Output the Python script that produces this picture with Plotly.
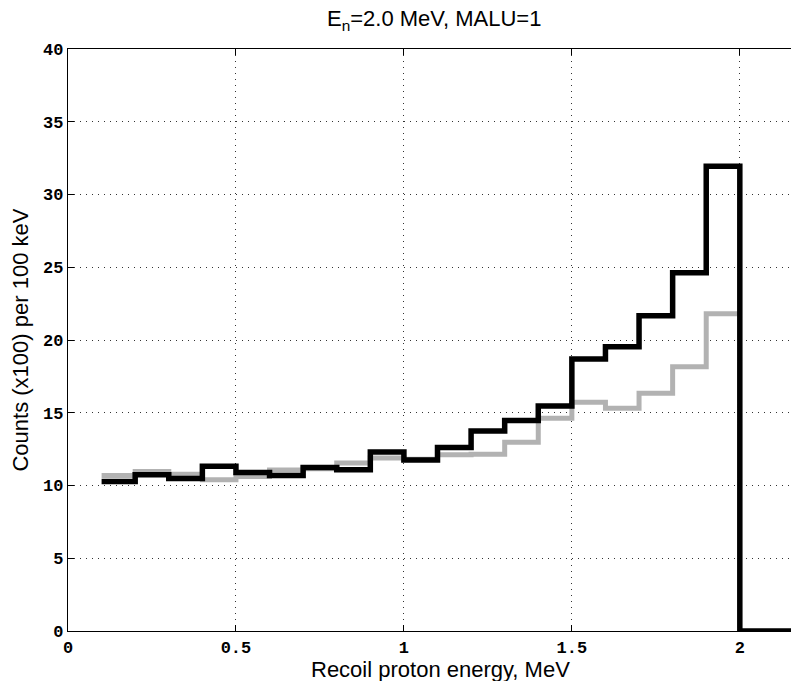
import plotly.graph_objects as go

# Bin left edges (MeV), 100 keV wide
bin_left = [0.1, 0.2, 0.3, 0.4, 0.5, 0.6, 0.7, 0.8, 0.9, 1.0,
            1.1, 1.2, 1.3, 1.4, 1.5, 1.6, 1.7, 1.8, 1.9]
bin_end = 2.0
tail_end = 2.2

# Counts (x100) per 100 keV
black_counts = [10.28, 10.74, 10.48, 11.33, 10.90, 10.69, 11.24, 11.08, 12.30, 11.75,
                12.62, 13.74, 14.47, 15.46, 18.69, 19.54, 21.67, 24.62, 31.95]
gray_counts = [10.69, 10.96, 10.78, 10.39, 10.62, 11.06, 11.15, 11.54, 11.89, 11.80,
               12.12, 12.15, 12.97, 14.62, 15.72, 15.31, 16.34, 18.17, 21.80]
tail_value = 0.0

x_ticks = [0, 0.5, 1, 1.5, 2]
x_ticktext = ["0", "0.5", "1", "1.5", "2"]
y_ticks = [0, 5, 10, 15, 20, 25, 30, 35, 40]
y_ticktext = ["0", "5", "10", "15", "20", "25", "30", "35", "40"]

title_text = "E<sub>n</sub>=2.0 MeV, MALU=1"
x_label = "Recoil proton energy, MeV"
y_label = "Counts (x100) per 100 keV"

# stairs data
gx = bin_left + [bin_end]
gy = gray_counts + [gray_counts[-1]]
bx = bin_left + [bin_end, tail_end]
by = black_counts + [tail_value, tail_value]

fig = go.Figure()
fig.add_trace(go.Scatter(x=gx, y=gy, mode="lines", line_shape="hv",
                         line=dict(color="rgb(178,178,178)", width=5),
                         showlegend=False, hoverinfo="skip"))
fig.add_trace(go.Scatter(x=bx, y=by, mode="lines", line_shape="hv",
                         line=dict(color="black", width=5.5),
                         showlegend=False, hoverinfo="skip"))

tickfont = dict(family="Liberation Mono", size=17, color="black", weight="bold")
labfont = dict(family="Liberation Sans", size=22, color="black")

fig.update_layout(
    width=799, height=681,
    margin=dict(l=60, r=0, t=41, b=58, autoexpand=False),
    paper_bgcolor="white", plot_bgcolor="white",
    showlegend=False,
    xaxis=dict(range=[0, 2.2], tickvals=x_ticks, ticktext=x_ticktext,
               showgrid=True, gridcolor="#333", gridwidth=1, griddash="1px,5px",
               zeroline=False, showline=True, linecolor="black", linewidth=1.2,
               mirror="ticks", ticks="inside", ticklen=6, tickcolor="black",
               tickfont=tickfont, automargin=False),
    yaxis=dict(range=[0, 40], tickvals=y_ticks, ticktext=y_ticktext,
               showgrid=True, gridcolor="#333", gridwidth=1, griddash="1px,5px",
               zeroline=False, showline=True, linecolor="black", linewidth=1.2,
               mirror="ticks", ticks="inside", ticklen=6, tickcolor="black",
               tickfont=tickfont, automargin=False),
    annotations=[
        dict(text=title_text, xref="paper", yref="paper", x=(433.5 - 68) / 739, y=1.0498,
             xanchor="center", yanchor="middle", showarrow=False, font=labfont),
        dict(text=x_label, xref="paper", yref="paper", x=(440 - 68) / 739, y=-0.066,
             xanchor="center", yanchor="middle", showarrow=False, font=labfont),
        dict(text=y_label, xref="paper", yref="paper", x=-0.0656, y=0.5,
             xanchor="center", yanchor="middle", textangle=-90, showarrow=False,
             font=labfont),
    ],
)

fig.write_html("out.html")
